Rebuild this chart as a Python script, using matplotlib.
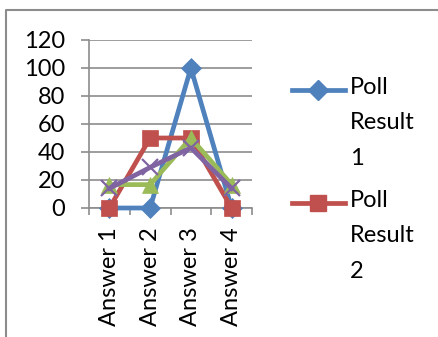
import matplotlib
matplotlib.use('Agg')
import matplotlib.pyplot as plt
from matplotlib.lines import Line2D
import numpy as np

plt.rcParams['font.family'] = ['Lato', 'DejaVu Sans']

answers = ['Answer 1', 'Answer 2', 'Answer 3', 'Answer 4']
series_names = ['Poll Result 1', 'Poll Result 2', 'Poll Result 3', 'Poll Result 4']
poll1 = [0, 0, 100, 0]
poll2 = [0, 50, 50, 0]
poll3 = [16.7, 16.7, 50, 16.7]
poll4 = [14, 29, 43, 14]

colors = ['#4F81BD', '#C0504D', '#9BBB59', '#8064A2']
markers = ['D', 's', '^', 'x']
msizes = [10, 12, 12, 12]

fig = plt.figure(figsize=(4.39, 3.37), dpi=100)
ax = fig.add_axes([89/439, 1-208/337, (252-89)/439, (208-40)/337])

x = np.arange(len(answers))
lines = []
for vals, c, m, ms in zip([poll1, poll2, poll3, poll4], colors, markers, msizes):
    ln, = ax.plot(x, vals, color=c, marker=m, markersize=ms, linewidth=3.4,
                  markeredgewidth=1.6 if m == 'x' else 0.5, markeredgecolor=c,
                  clip_on=False, zorder=3)
    lines.append(ln)

ax.set_xlim(-0.5, 3.5)
ax.set_ylim(0, 120)
ax.set_yticks(range(0, 121, 20))
ax.yaxis.grid(True, color='#8c8c8c', linewidth=1.2)
ax.set_axisbelow(True)
ax.set_xticks(x)
ax.set_xticklabels(answers, rotation=90, fontsize=17)
ax.set_xticks(np.arange(-0.5, 4, 1), minor=True)
ax.tick_params(axis='x', which='major', length=0, pad=14)
ax.tick_params(axis='x', which='minor', length=5, width=1.2, color='#8c8c8c', direction='out')
ax.tick_params(axis='y', length=6, width=1.2, color='#8c8c8c', pad=11, labelsize=17)
for s in ['top', 'right']:
    ax.spines[s].set_visible(False)
for s in ['left', 'bottom']:
    ax.spines[s].set_color('#8c8c8c')
    ax.spines[s].set_linewidth(1.2)

# legend, only the first two entries fit in the frame
legend_y = [90/337, 203/337]
for ln, name, yy in zip(lines[:2], series_names[:2], legend_y):
    fig.add_artist(Line2D([292/439, 345/439], [1-yy, 1-yy], transform=fig.transFigure,
                          color=ln.get_color(), linewidth=3.4))
    fig.add_artist(Line2D([318.5/439], [1-yy], transform=fig.transFigure,
                          color=ln.get_color(), marker=ln.get_marker(),
                          markersize=ln.get_markersize(), linewidth=0))
    fig.text(350/439, 1-yy + 13/337, '\n'.join(name.split()), fontsize=17,
             va='top', ha='left', linespacing=1.85)

# chart frame
fig.add_artist(Line2D([6/439, 6/439, 1], [0, 1-10/337, 1-10/337], transform=fig.transFigure,
                      color='#8c8c8c', linewidth=1.5))

fig.savefig('out.png', dpi=100)
